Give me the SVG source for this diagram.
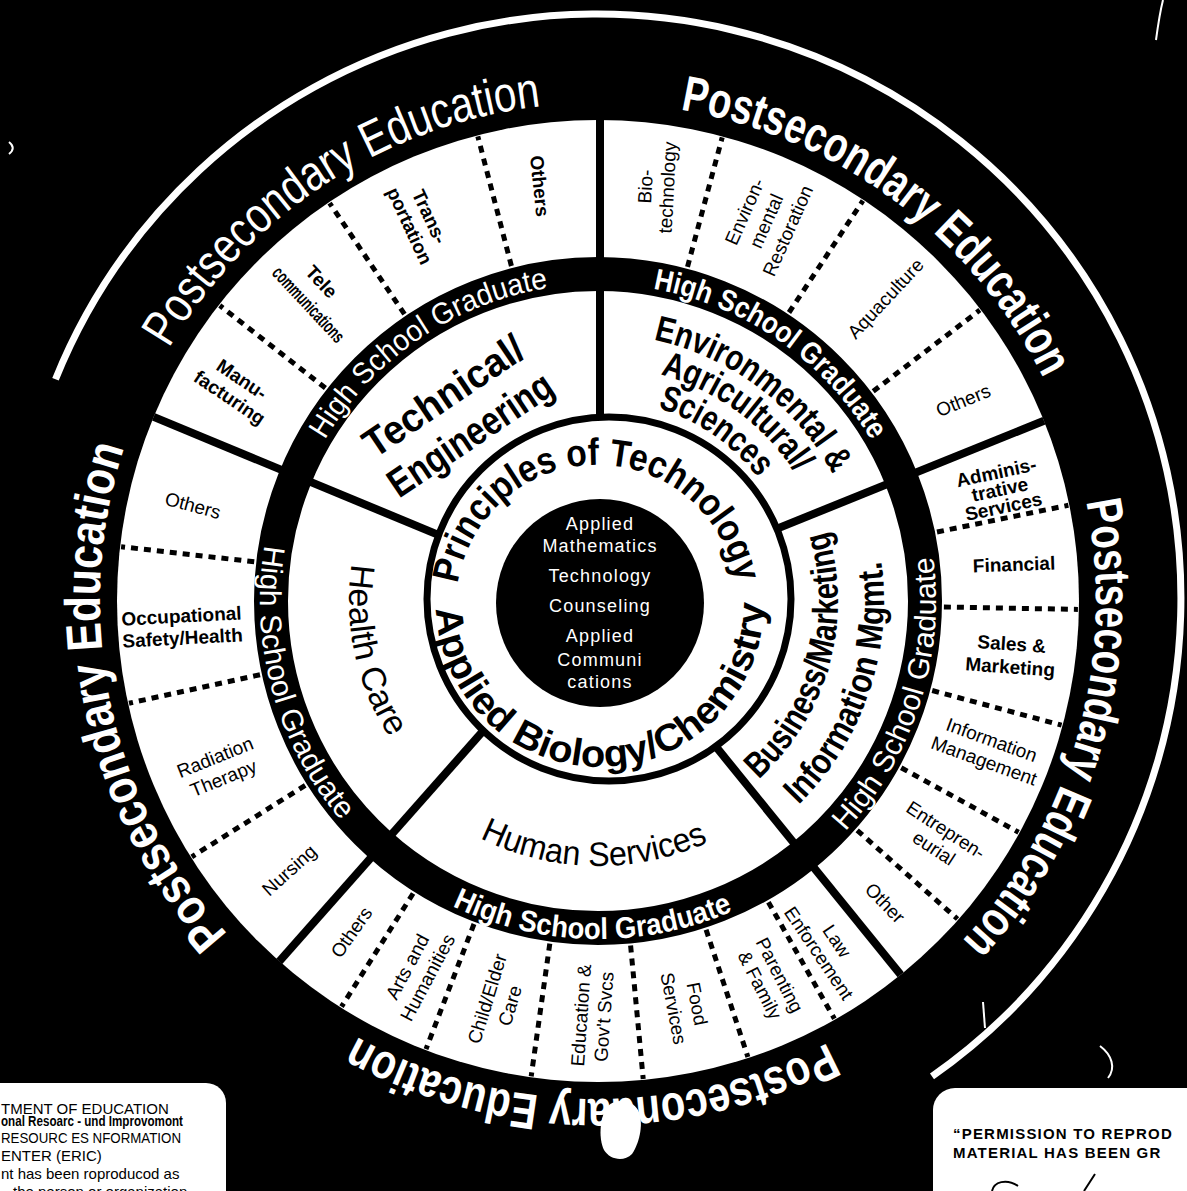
<svg xmlns="http://www.w3.org/2000/svg" width="1187" height="1191" viewBox="0 0 1187 1191">
<style>
 text{font-family:"Liberation Sans",Arial,"DejaVu Sans",sans-serif}
 .b{font-weight:bold}
 .out{font-size:50px;fill:#fff}
 .hs{font-size:30px;fill:#fff}
 .cl{font-size:36px;font-weight:bold;fill:#000}
 .cr{font-size:34px;fill:#000}
 .pr{font-size:38px;font-weight:bold;fill:#000}
 .occ{font-size:19px;fill:#000}
 .core{font-size:18px;fill:#fff;letter-spacing:1.2px}
 .dot{stroke:#000;stroke-width:5;stroke-dasharray:7 6;fill:none}
 .sol{stroke:#000;stroke-width:8;fill:none}
 .note{font-size:15px;fill:#000}
 .art{stroke:#fff;fill:none;stroke-width:2}
</style>
<defs>
 <path id="po1" d="M168.9 348.3 A498 498 0 0 1 541.6 106.2"/>
 <path id="po2" d="M680.2 109.8 A498 498 0 0 1 1043.7 378.8"/>
 <path id="po3" d="M1086 501.7 A498 498 0 0 1 962.2 940.6"/>
 <path id="po4" d="M827.9 1042.7 A498 498 0 0 1 356.6 1036.5"/>
 <path id="po5" d="M227.9 934.2 A498 498 0 0 1 124.3 447.1"/>
 <path id="hs1" d="M324.9 440.1 A317 317 0 0 1 548.4 287.9"/>
 <path id="hs2" d="M653 288.8 A317 317 0 0 1 871.1 440.1"/>
 <path id="hs3" d="M845.2 831.5 A338 338 0 0 0 933.1 556.9"/>
 <path id="hs4" d="M452.5 906.1 A338 338 0 0 0 732.8 911"/>
 <path id="hs5" d="M264.6 545.2 A338 338 0 0 0 341 820.5"/>
 <path id="env1" d="M653.5 339.8 A267 267 0 0 1 832.6 473.6"/>
 <path id="env2" d="M660.4 374.4 A235 235 0 0 1 795.1 473"/>
 <path id="env3" d="M657.7 408 A202 202 0 0 1 758.3 478"/>
 <path id="bus1" d="M758.6 779.3 A240 240 0 0 0 827.5 530.8"/>
 <path id="bus2" d="M798.5 805 A286 286 0 0 0 881.2 561.2"/>
 <path id="hum" d="M479.8 838.1 A265 265 0 0 0 707.9 842.2"/>
 <path id="hea" d="M351.8 563.8 A249 249 0 0 0 389.6 737.4"/>
 <path id="pri" d="M457.7 583.9 A141 141 0 0 1 736.1 582.7"/>
 <path id="app" d="M436.1 608.7 A164 164 0 0 0 764 603"/>
</defs>

<rect width="1187" height="1191" fill="#000"/>

<g id="rings">
 <path d="M55.5 379.2 A584 584 0 1 1 932 1076.4" stroke="#fff" stroke-width="7" fill="none"/>
 <circle cx="598" cy="601" r="481" fill="#fff"/>
 <circle cx="598" cy="601" r="327" fill="none" stroke="#000" stroke-width="34"/>
</g>

<g id="connectors">
 <line class="sol" x1="600" y1="450" x2="600" y2="120"/>
 <line class="sol" x1="737.1" y1="544.8" x2="1044" y2="420.8"/>
 <line class="sol" x1="692.4" y1="717.6" x2="900.7" y2="974.8"/>
 <line class="sol" x1="498.6" y1="713.4" x2="279.3" y2="961.3"/>
 <line class="sol" x1="459.4" y1="543.6" x2="153.6" y2="416.9"/>
 <line class="dot" x1="325.4" y1="388" x2="219.8" y2="305.5"/>
 <line class="dot" x1="404.5" y1="314.2" x2="329.6" y2="203.1"/>
 <line class="dot" x1="511.4" y1="266" x2="477.8" y2="136.3"/>
 <line class="dot" x1="687.5" y1="266.8" x2="722.2" y2="137.4"/>
 <line class="dot" x1="789" y1="312.5" x2="862.9" y2="200.7"/>
 <line class="dot" x1="873.2" y1="391.3" x2="979.8" y2="310.1"/>
 <line class="dot" x1="937" y1="532" x2="1068.4" y2="505.3"/>
 <line class="dot" x1="943.9" y1="607" x2="1077.9" y2="609.4"/>
 <line class="dot" x1="932.2" y1="690.5" x2="1061.6" y2="725.2"/>
 <line class="dot" x1="901.2" y1="767.7" x2="1018.6" y2="832.3"/>
 <line class="dot" x1="857.2" y1="830.3" x2="957.5" y2="919"/>
 <line class="dot" x1="768.4" y1="902.2" x2="834.4" y2="1018.8"/>
 <line class="dot" x1="706.1" y1="929.7" x2="747.9" y2="1057"/>
 <line class="dot" x1="630.6" y1="945.5" x2="643.2" y2="1078.9"/>
 <line class="dot" x1="549.8" y1="943.6" x2="531.2" y2="1076.3"/>
 <line class="dot" x1="474" y1="924" x2="426" y2="1049.1"/>
 <line class="dot" x1="413.1" y1="893.5" x2="341.5" y2="1006.7"/>
 <line class="dot" x1="305.2" y1="785.4" x2="191.8" y2="856.8"/>
 <line class="dot" x1="260" y1="674.7" x2="129" y2="703.2"/>
 <line class="dot" x1="254.2" y1="561.8" x2="121.1" y2="546.7"/>
</g>

<g id="core">
 <circle cx="609" cy="599" r="182" fill="#fff" stroke="#000" stroke-width="7"/>
 <circle cx="600" cy="603" r="104" fill="#000"/>
 <g text-anchor="middle">
  <text class="core" x="600" y="530">Applied</text>
  <text class="core" x="600" y="552">Mathematics</text>
  <text class="core" x="600" y="582">Technology</text>
  <text class="core" x="600" y="612">Counseling</text>
  <text class="core" x="600" y="642">Applied</text>
  <text class="core" x="600" y="666">Communi</text>
  <text class="core" x="600" y="688">cations</text>
 </g>
 <text class="pr"><textPath href="#pri" textLength="397" lengthAdjust="spacingAndGlyphs">Principles of Technology</textPath></text>
 <text class="pr"><textPath href="#app" textLength="509" lengthAdjust="spacingAndGlyphs">Applied Biology/Chemistry</textPath></text>
</g>

<g id="postsecondary">
 <text class="out"><textPath href="#po1" textLength="460" lengthAdjust="spacingAndGlyphs">Postsecondary Education</textPath></text>
 <text class="out b"><textPath href="#po2" textLength="469" lengthAdjust="spacingAndGlyphs">Postsecondary Education</textPath></text>
 <text class="out b"><textPath href="#po3" textLength="474" lengthAdjust="spacingAndGlyphs">Postsecondary Education</textPath></text>
 <text class="out b"><textPath href="#po4" textLength="491" lengthAdjust="spacingAndGlyphs">Postsecondary Education</textPath></text>
 <text class="out b"><textPath href="#po5" textLength="521" lengthAdjust="spacingAndGlyphs">Postsecondary Education</textPath></text>
 <path d="M608 1106 C616 1098 632 1100 638 1110 C644 1122 640 1142 632 1154 C624 1162 610 1160 604 1150 C598 1138 600 1115 608 1106 Z" fill="#fff"/>
</g>

<g id="high-school">
 <text class="hs"><textPath href="#hs1" textLength="279" lengthAdjust="spacingAndGlyphs">High School Graduate</textPath></text>
 <text class="hs b"><textPath href="#hs2" textLength="274" lengthAdjust="spacingAndGlyphs">High School Graduate</textPath></text>
 <text class="hs"><textPath href="#hs3" textLength="298" lengthAdjust="spacingAndGlyphs">High School Graduate</textPath></text>
 <text class="hs b"><textPath href="#hs4" textLength="289" lengthAdjust="spacingAndGlyphs">High School Graduate</textPath></text>
 <text class="hs"><textPath href="#hs5" textLength="295" lengthAdjust="spacingAndGlyphs">High School Graduate</textPath></text>
</g>

<g id="cluster-technical">
 <text class="b" font-size="40" transform="translate(443 396) rotate(-34)" x="-92" y="14" textLength="185" lengthAdjust="spacingAndGlyphs">Technical/</text>
 <text class="b" font-size="40" transform="translate(470 434) rotate(-34)" x="-95" y="14" textLength="190" lengthAdjust="spacingAndGlyphs">Engineering</text>
</g>
<g id="cluster-environmental">
 <text class="cl" font-size="33"><textPath href="#env1" textLength="231" lengthAdjust="spacingAndGlyphs">Environmental &amp;</textPath></text>
 <text class="cl" font-size="33"><textPath href="#env2" textLength="171" lengthAdjust="spacingAndGlyphs">Agricultural/</textPath></text>
 <text class="cl" font-size="33"><textPath href="#env3" textLength="124" lengthAdjust="spacingAndGlyphs">Sciences</textPath></text>
</g>
<g id="cluster-business">
 <text class="cl"><textPath href="#bus1" textLength="272" lengthAdjust="spacingAndGlyphs">Business/Marketing</textPath></text>
 <text class="cl"><textPath href="#bus2" textLength="267" lengthAdjust="spacingAndGlyphs">Information Mgmt.</textPath></text>
</g>
<g id="cluster-human">
 <text class="cr"><textPath href="#hum" textLength="236" lengthAdjust="spacingAndGlyphs">Human Services</textPath></text>
</g>
<g id="cluster-health">
 <text class="cr"><textPath href="#hea" textLength="182" lengthAdjust="spacingAndGlyphs">Health Care</textPath></text>
</g>

<g id="occupations" text-anchor="middle">
 <g id="occ-manufacturing" transform="translate(236 388) rotate(34)"><text class="occ b"><tspan x="0" y="-4">Manu-</tspan><tspan x="0" y="18">facturing</tspan></text></g>
 <g id="occ-tele" transform="translate(321 282) rotate(47)"><text class="occ b" font-size="17" y="6">Tele</text></g>
 <g id="occ-communications" transform="translate(307 306) rotate(47)"><text class="occ b" font-size="12" y="4.3" textLength="96" lengthAdjust="spacingAndGlyphs">communications</text></g>
 <g id="occ-transportation" transform="translate(420 221) rotate(65)"><text class="occ b"><tspan x="0" y="-4">Trans-</tspan><tspan x="0" y="18">portation</tspan></text></g>
 <g id="occ-tech-others" transform="translate(540 186) rotate(84)"><text class="occ b" y="6.8">Others</text></g>

 <g id="occ-biotech" transform="translate(656 187) rotate(-87)"><text class="occ"><tspan x="0" y="-4">Bio-</tspan><tspan x="0" y="18">technology</tspan></text></g>
 <g id="occ-envrest" transform="translate(766 221) rotate(-66)"><text class="occ"><tspan x="0" y="-16.8">Environ-</tspan><tspan x="0" y="6.8">mental</tspan><tspan x="0" y="30.4">Restoration</tspan></text></g>
 <g id="occ-aqua" transform="translate(885 298) rotate(-47)"><text class="occ" font-size="20" y="7.2">Aquaculture</text></g>
 <g id="occ-env-others" transform="translate(963 400) rotate(-22)"><text class="occ" y="7">Others</text></g>

 <g id="occ-admin" transform="translate(1000 490) rotate(-12)"><text class="occ b" font-size="16.5"><tspan x="0" y="-11.5">Adminis-</tspan><tspan x="0" y="6">trative</tspan><tspan x="0" y="23.5">Services</tspan></text></g>
 <g id="occ-financial" transform="translate(1014 564) rotate(-2)"><text class="occ b" y="7">Financial</text></g>
 <g id="occ-sales" transform="translate(1011 655) rotate(4)"><text class="occ b"><tspan x="0" y="-4.5">Sales &amp;</tspan><tspan x="0" y="18.5">Marketing</tspan></text></g>
 <g id="occ-infomgmt" transform="translate(988 750) rotate(20)"><text class="occ"><tspan x="0" y="-4.2">Information</tspan><tspan x="0" y="18">Management</tspan></text></g>
 <g id="occ-entre" transform="translate(940 839) rotate(33)"><text class="occ" font-size="18.5"><tspan x="0" y="-4.2">Entrepren-</tspan><tspan x="0" y="17.6">eurial</tspan></text></g>
 <g id="occ-bus-other" transform="translate(885 903) rotate(46)"><text class="occ" font-size="18" y="6.5">Other</text></g>

 <g id="occ-law" transform="translate(828 947) rotate(56)"><text class="occ" font-size="18.5"><tspan x="0" y="-4.2">Law</tspan><tspan x="0" y="17.6">Enforcement</tspan></text></g>
 <g id="occ-parenting" transform="translate(770 980) rotate(63)"><text class="occ"><tspan x="0" y="-4.3">Parenting</tspan><tspan x="0" y="18">&amp; Family</tspan></text></g>
 <g id="occ-food" transform="translate(686 1006) rotate(79)"><text class="occ" font-size="20"><tspan x="0" y="-4.8">Food</tspan><tspan x="0" y="19.2">Services</tspan></text></g>
 <g id="occ-education" transform="translate(592 1016) rotate(-86)"><text class="occ" font-size="19.5"><tspan x="0" y="-4.5">Education &amp;</tspan><tspan x="0" y="18.5">Gov't Svcs</tspan></text></g>
 <g id="occ-child" transform="translate(498 1002) rotate(-73)"><text class="occ" font-size="19.5"><tspan x="0" y="-4.8">Child/Elder</tspan><tspan x="0" y="19">Care</tspan></text></g>
 <g id="occ-arts" transform="translate(417 972) rotate(-62)"><text class="occ" font-size="19.5"><tspan x="0" y="-4.5">Arts and</tspan><tspan x="0" y="18.5">Humanities</tspan></text></g>
 <g id="occ-hum-others" transform="translate(351 932) rotate(-55)"><text class="occ" font-size="19.5" y="7">Others</text></g>

 <g id="occ-nursing" transform="translate(289 870) rotate(-42)"><text class="occ" y="6.8">Nursing</text></g>
 <g id="occ-radiation" transform="translate(219 767) rotate(-22)"><text class="occ" font-size="19.5"><tspan x="0" y="-4">Radiation</tspan><tspan x="0" y="18.5">Therapy</tspan></text></g>
 <g id="occ-occsafety" transform="translate(182 627) rotate(-3)"><text class="occ b" font-size="18"><tspan x="0" y="-4.5">Occupational</tspan><tspan x="0" y="17.5">Safety/Health</tspan></text></g>
 <g id="occ-health-others" transform="translate(193 505) rotate(15)"><text class="occ" y="7">Others</text></g>
</g>

<g id="eric-box">
 <path d="M-5 1083 H206 A20 20 0 0 1 226 1103 V1196 H-5 Z" fill="#fff"/>
 <text class="note" x="1" y="1114">TMENT OF EDUCATION</text>
 <text class="note b" x="1" y="1126" font-size="10.5" textLength="182" lengthAdjust="spacingAndGlyphs">onal Resoarc - und Improvomont</text>
 <text class="note" x="1" y="1143" textLength="180" lengthAdjust="spacingAndGlyphs">RESOURC ES NFORMATION</text>
 <text class="note" x="1" y="1161">ENTER (ERIC)</text>
 <text class="note" x="1" y="1179">nt has been roproducod as</text>
 <text class="note" x="13" y="1197">the person or organization</text>
</g>

<g id="permission-box">
 <path d="M1192 1088 H955 A22 22 0 0 0 933 1110 V1196 H1192 Z" fill="#fff"/>
 <text class="note b" x="953" y="1139" font-size="19.5" letter-spacing="1.2">“PERMISSION TO REPROD</text>
 <text class="note b" x="953" y="1158" font-size="19.5" letter-spacing="1.2">MATERIAL HAS BEEN GR</text>
 <path d="M992 1191 C994 1182 1006 1178 1018 1186 M1095 1174 L1084 1191" stroke="#000" stroke-width="2" fill="none"/>
</g>

<g id="scan-marks">
 <path class="art" d="M1163 0 C1160 12 1158 25 1156 40"/>
 <path class="art" d="M1100 1046 C1112 1055 1116 1068 1108 1078"/>
 <path class="art" stroke-width="3" d="M983 1002 L985 1028"/>
 <path class="art" d="M9 142 C14 146 14 150 9 154"/>
</g>
</svg>
